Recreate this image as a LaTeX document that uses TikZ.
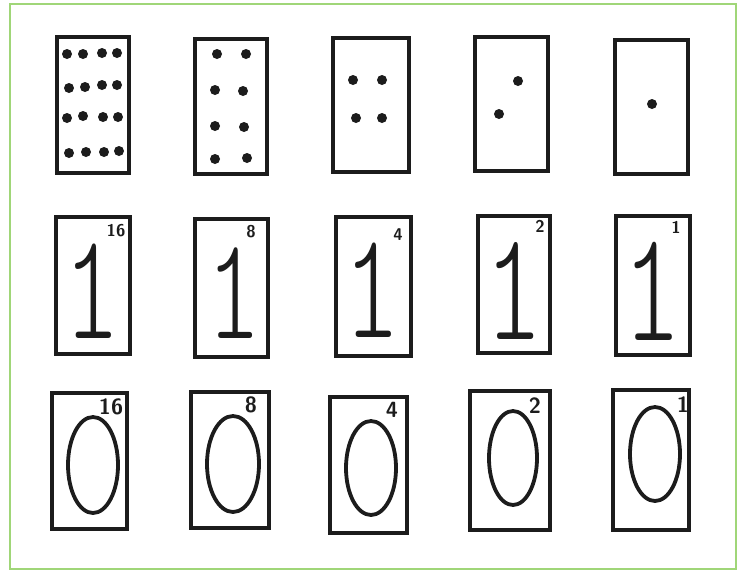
\documentclass[tikz,border=0pt]{standalone}
\definecolor{framegreen}{RGB}{160,214,120}
\definecolor{ink}{RGB}{28,28,28}
\begin{document}
\begin{tikzpicture}[x=1pt,y=-1pt,
  card/.style={draw=ink,line width=4.2pt,inner sep=0pt,rectangle},
  dotmark/.style={fill=ink,circle,inner sep=0pt,minimum size=10pt},
  oval/.style={draw=ink,line width=3.8pt},
  bigone/.style={anchor=base,inner sep=0pt,text=ink,font=\fontfamily{lmtt}\fontseries{l}\fontsize{#1}{#1}\selectfont,xscale=0.72},
  power/.style={text=ink,inner sep=0pt,font=\sffamily\bfseries\fontsize{17}{17}\selectfont},
  bigpower/.style={text=ink,inner sep=0pt,font=\sffamily\bfseries\fontsize{22}{22}\selectfont}]
\useasboundingbox (0,0) rectangle (741,571);
\node[draw=framegreen,line width=2pt,inner sep=0pt,minimum width=726pt,minimum height=565pt] (frame) at (373,286.5) {};
% ---- row 1: dots
\node[card,minimum width=72pt,minimum height=136pt] (a1) at (93,105) {};
\node[card,minimum width=72pt,minimum height=135pt] (a2) at (231,106.5) {};
\node[card,minimum width=76pt,minimum height=134pt] (a3) at (371,105) {};
\node[card,minimum width=73pt,minimum height=134pt] (a4) at (511.5,104) {};
\node[card,minimum width=73pt,minimum height=134pt] (a5) at (651.5,107) {};
\foreach \p [count=\i] in {(67,54),(83,54),(102,53),(117,53),(69,88),(85,87),(102,85),(117,85),(67,118),(83,116),(103,117),(118,117),(69,153),(86,152),(104,152),(119,151)}
  \node[dotmark] (d1-\i) at \p {};
\foreach \p [count=\i] in {(217,54),(246,54),(215,90),(243,91),(215,126),(244,127),(215,159),(247,158)}
  \node[dotmark] (d2-\i) at \p {};
\foreach \p [count=\i] in {(353,80),(382,80),(356,118),(382,118)}
  \node[dotmark] (d3-\i) at \p {};
\foreach \p [count=\i] in {(518,81),(499,114)}
  \node[dotmark] (d4-\i) at \p {};
\node[dotmark] (d5-1) at (652,104) {};
% ---- row 2: ones
\node[card,minimum width=74pt,minimum height=137pt] (b1) at (93,285.5) {};
\node[card,minimum width=73pt,minimum height=138pt] (b2) at (231.5,288) {};
\node[card,minimum width=75pt,minimum height=139pt] (b3) at (373.5,286.5) {};
\node[card,minimum width=72pt,minimum height=137pt] (b4) at (514,284.5) {};
\node[card,minimum width=74pt,minimum height=139pt] (b5) at (653,285.5) {};
\node[bigone=152] (one1) at (92,338) {1};
\node[bigone=146] (one2) at (234,338) {1};
\node[bigone=152] (one3) at (372,337) {1};
\node[bigone=156] (one4) at (514,339) {1};
\node[bigone=158] (one5) at (652,340) {1};
\node[power] (p1) at (116,231) {16};
\node[power] (p2) at (251,232) {8};
\node[power] (p3) at (398,235) {4};
\node[power] (p4) at (540,226) {2};
\node[power] (p5) at (676,227) {1};
% ---- row 3: zeros
\node[card,minimum width=75pt,minimum height=136pt] (c1) at (89.5,461) {};
\node[card,minimum width=78pt,minimum height=136pt] (c2) at (230,460) {};
\node[card,minimum width=77pt,minimum height=136pt] (c3) at (368.5,465) {};
\node[card,minimum width=80pt,minimum height=139pt] (c4) at (510,460.5) {};
\node[card,minimum width=76pt,minimum height=140pt] (c5) at (651,460) {};
\draw[oval] (93,465) ellipse [x radius=25pt,y radius=48pt];
\draw[oval] (233,464) ellipse [x radius=26pt,y radius=48pt];
\draw[oval] (371,468) ellipse [x radius=25pt,y radius=47pt];
\draw[oval] (513,458) ellipse [x radius=24pt,y radius=47pt];
\draw[oval] (655,454) ellipse [x radius=25pt,y radius=47pt];
\node[bigpower] (q1) at (111,407) {16};
\node[bigpower] (q2) at (251,405) {8};
\node[bigpower] (q3) at (392,410) {4};
\node[bigpower] (q4) at (535,406) {2};
\node[bigpower] (q5) at (683,405) {1};
\end{tikzpicture}
\end{document}
